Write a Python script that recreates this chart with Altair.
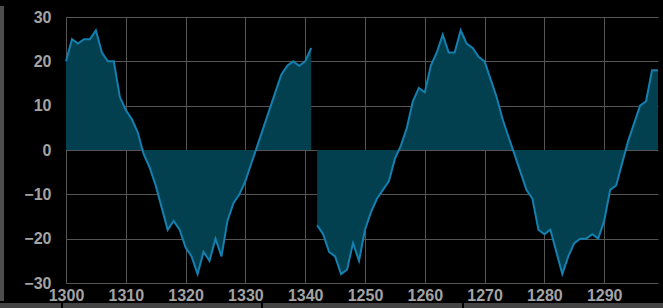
import altair as alt
import pandas as pd

# segment 1: positions 0..41 (labels 1300..1341)
seg1_idx = list(range(0, 42))
seg1_val = [20, 25, 24, 25, 25, 27, 22, 20, 20, 12, 9, 7, 4, -1, -4, -8, -13, -18, -16, -18,
            -22, -24, -28, -23, -25, -20, -24, -16, -12, -10, -7, -3, 1, 5, 9, 13, 17, 19, 20, 19,
            20, 23]
# segment 2: positions 42..99 (labels 1242..1299)
seg2_idx = list(range(42, 100))
seg2_val = [-17, -19, -23, -24, -28, -27, -21, -25, -18, -14, -11, -9, -7, -2, 1, 5, 11, 14, 13, 19,
            22, 26, 22, 22, 27, 24, 23, 21, 20, 16, 12, 7, 3, -1, -5, -9, -11, -18, -19, -18,
            -23, -28, -24, -21, -20, -20, -19, -20, -16, -9, -8, -3, 2, 6, 10, 11, 18, 18]

x_ticks = [0, 10, 20, 30, 40, 50, 60, 70, 80, 90]
y_ticks = [-30, -20, -10, 0, 10, 20, 30]

df1 = pd.DataFrame({"pos": seg1_idx, "value": seg1_val})
df2 = pd.DataFrame({"pos": seg2_idx, "value": seg2_val})

FONT = "Liberation Sans Narrow, Arial Narrow, Liberation Sans, sans-serif"

x_enc = alt.X("pos:Q", scale=alt.Scale(domain=[0, 99], nice=False, zero=False),
              axis=alt.Axis(values=x_ticks, title=None, labelFlush=False,
                            labelExpr="datum.value <= 41 ? 1300 + datum.value : 1200 + datum.value",
                            labelPadding=4))
y_enc = alt.Y("value:Q", scale=alt.Scale(domain=[-30, 30], nice=False), stack=None,
              axis=alt.Axis(values=y_ticks, title=None, labelPadding=15))


def seg_layers(d):
    base = alt.Chart(d).encode(x=x_enc, y=y_enc)
    fill = base.mark_area(color="#02404f", opacity=1)
    line = base.mark_line(color="#1480b0", strokeWidth=2)
    return [fill, line]


left_bar = alt.Chart(df1).mark_rule(color="#4d4d4d", strokeWidth=4).encode(
    x=alt.value(-64), y=alt.value(-11), y2=alt.value(284)
)
bottom_bar = alt.Chart(df1).mark_rule(color="#444444", strokeWidth=5).encode(
    x=alt.value(-66), x2=alt.value(597), y=alt.value(288.5)
)
gaps = [
    alt.Chart(df1).mark_rule(color="#000000", strokeWidth=1).encode(
        x=alt.value(gx), y=alt.value(286), y2=alt.value(291)
    )
    for gx in (-4, 196, 397)
]

chart = alt.layer(*seg_layers(df1), *seg_layers(df2), left_bar, bottom_bar, *gaps).properties(
    width=592, height=266,
    autosize=alt.AutoSizeParams(type="none"),
    padding={"left": 66, "top": 17, "right": 5, "bottom": 25},
    background="#000000",
).configure_view(stroke=None).configure_axis(
    grid=True, gridColor="#555555", gridWidth=1, domain=False, ticks=False,
    labelColor="#a3a3a3", labelFont=FONT, labelFontSize=16, labelFontWeight="bold",
)

chart.save("out.html", embed_options={"renderer": "svg", "actions": False})
